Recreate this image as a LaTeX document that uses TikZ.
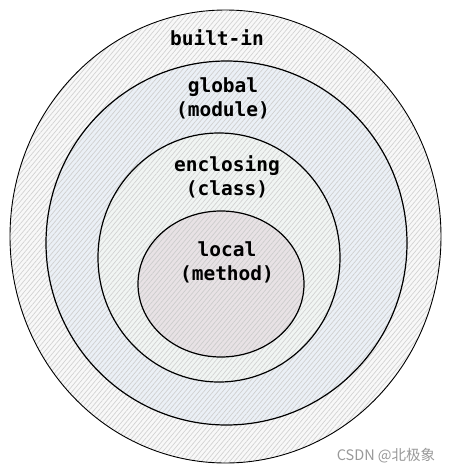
\documentclass[tikz,border=0pt]{standalone}
\usepackage{fontspec}
\setmonofont{DejaVu Sans Mono}
\newfontfamily\cjkfont{Noto Sans CJK SC}
\usetikzlibrary{patterns.meta}

\definecolor{builtinbg}{HTML}{F8F8F8}
\definecolor{globalbg}{HTML}{EBF0F6}
\definecolor{enclosingbg}{HTML}{F1F5F3}
\definecolor{localbg}{HTML}{E8E2E5}

\tikzset{
  scopelabel/.style={font=\ttfamily\bfseries\fontsize{19.5}{24}\selectfont, align=center},
  ring/.style={draw=black, line width=1.2pt},
  hatch/.style={pattern={Lines[angle=50, distance=3.6pt, line width=0.7pt]}, pattern color=#1},
}

\begin{document}
\begin{tikzpicture}[x=1pt, y=-1pt]
    \fill[white] (0,0) rectangle (451,472);
    \useasboundingbox (0,0) rectangle (451,472);

    \fill[builtinbg] (225.5,236.5) ellipse [x radius=215.5pt, y radius=226.5pt];
    \fill[hatch=gray!35] (225.5,236.5) ellipse [x radius=215.5pt, y radius=226.5pt];
    \fill[globalbg] (226.5,243) ellipse [x radius=180.5pt, y radius=182pt];
    \fill[hatch=white!62!gray] (226.5,243) ellipse [x radius=180.5pt, y radius=182pt];
    \fill[enclosingbg] (219,257.5) ellipse [x radius=121pt, y radius=124.5pt];
    \fill[hatch=white!65!gray] (219,257.5) ellipse [x radius=121pt, y radius=124.5pt];
    \fill[localbg] (221,284) ellipse [x radius=83pt, y radius=73pt];
    \fill[hatch=gray!40] (221,284) ellipse [x radius=83pt, y radius=73pt];

    \draw[ring, line width=0.9pt] (225.5,236.5) ellipse [x radius=215.5pt, y radius=226.5pt];
    \draw[ring] (226.5,243) ellipse [x radius=180.5pt, y radius=182pt];
    \draw[ring] (219,257.5) ellipse [x radius=121pt, y radius=124.5pt];
    \draw[ring] (221,284) ellipse [x radius=83pt, y radius=73pt];

    \node[scopelabel] (builtin) at (217,38) {built-in};
    \node[scopelabel] (global) at (223,98) {global\\(module)};
    \node[scopelabel] (enclosing) at (227,177) {enclosing\\(class)};
    \node[scopelabel] (local) at (227,262) {local\\(method)};

    \node[font=\cjkfont\fontsize{14.5}{14.5}\selectfont, text=gray!80] (mark) at (386,456) {CSDN @北极象};
\end{tikzpicture}
\end{document}
